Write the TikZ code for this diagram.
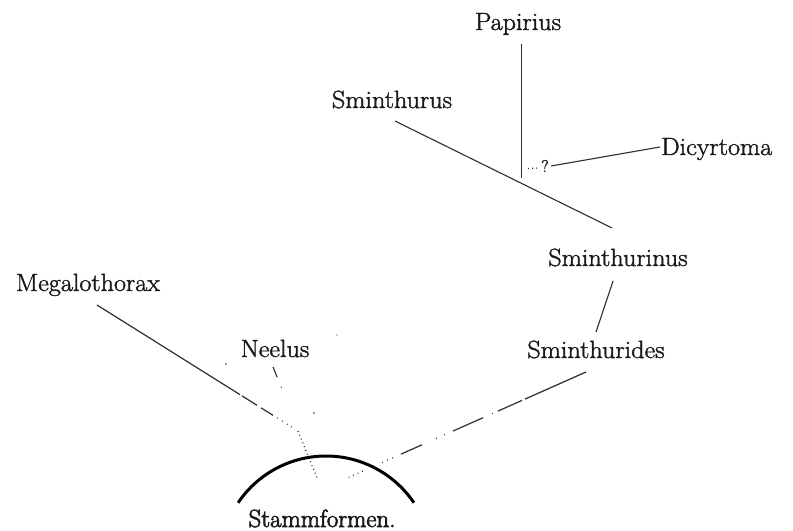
\documentclass[tikz,border=0pt]{standalone}
\usepackage{fontspec}
\newfontfamily\lblfont[FakeBold=1.5,FakeStretch=1.05]{Latin Modern Roman}
\newfontfamily\stammfont[FakeBold=2.6,FakeStretch=1.0]{Latin Modern Roman}
\usetikzlibrary{calc}
\definecolor{ink}{HTML}{1A1A1A}
\definecolor{lineink}{HTML}{2E2E2E}
\begin{document}
\begin{tikzpicture}[x=1bp,y=-1bp,
  lbl/.style={anchor=base,inner sep=0pt,text=ink,font=\lblfont\fontsize{25}{30}\selectfont},
  branch/.style={draw=lineink,line width=1.1bp},
  dotline/.style={draw=lineink,line width=1.2bp,dash pattern=on 0.9bp off 3.2bp},
  stamm/.style={draw=black,line width=3bp}]
\useasboundingbox[fill=white] (0,0) rectangle (793,531);

% labels
\node[lbl] (pap) at (518,30) {Papirius};
\node[lbl] (smu) at (392,108) {Sminthurus};
\node[lbl,anchor=base west] (dic) at (661,155) {Dicyrtoma};
\node[lbl] (smi) at (618,266) {Sminthurinus};
\node[lbl] (smd) at (596,358) {Sminthurides};
\node[lbl] (meg) at (88,291) {Megalothorax};
\node[lbl] (nee) at (275,357) {Neelus};
\node[lbl,font=\stammfont\fontsize{25}{30}\selectfont] (sta) at (322,527) {Stammformen.};
\node[inner sep=0pt,text=ink,font=\lblfont\fontsize{17}{18}\selectfont] (q) at (545,166) {?};

% junction / end coordinates
\coordinate (papT) at (521.5,44);
\coordinate (papB) at (521.5,178);
\coordinate (smuA) at (395,121);
\coordinate (smuB) at (612,228);
\coordinate (qA) at (528,168.5);
\coordinate (qB) at (539,168);
\coordinate (dicA) at (551,166);
\coordinate (dicB) at (660,147);
\coordinate (smiB) at (613,281);
\coordinate (smdT) at (596,332);
\coordinate (smdA) at (586,372);
\coordinate (smdB) at (345,479);
\coordinate (megA) at (97,305);
\coordinate (junc) at (298,431);
\coordinate (juncB) at (317,478);
\coordinate (neeA) at (273,367);
\coordinate (neeB) at (282,389);
\coordinate (arcC) at (326,562);

% Papirius
\draw[branch] (papT) -- (papB);
% Sminthurus
\draw[branch] (smuA) -- (smuB);
% Dicyrtoma with ?
\draw[dotline] (qA) -- (qB);
\draw[branch] (dicA) -- (dicB);
% Sminthurinus - Sminthurides
\draw[branch] (smiB) -- (smdT);
% Sminthurides to Stammformen (broken line)
\draw[branch,line width=1.2bp,dash pattern=on 66.7bp off 3.3bp on 26.3bp off 5.5bp on 0.8bp off 10.1bp
  on 32.8bp off 8.8bp on 0.8bp off 8bp on 0.8bp off 15.6bp on 23bp off 8.8bp
  on 0.8bp off 4.7bp on 0.8bp off 4.7bp on 0.8bp off 21.1bp
  on 0.8bp off 4.1bp on 0.8bp off 4.1bp on 0.8bp off 4.1bp on 0.8bp off 4.1bp on 0.8bp off 60bp]
  (smdA) -- (smdB);
% Megalothorax
\draw[branch,line width=1.2bp,dash pattern=on 168.7bp off 2.4bp on 17.7bp off 4.7bp on 14.2bp off 4.7bp
  on 0.8bp off 5.1bp on 0.8bp off 5.1bp on 0.8bp off 4bp on 0.8bp off 40bp]
  (megA) -- (junc);
\draw[dotline] (junc) -- (juncB);
% Neelus
\draw[branch,dash pattern=on 11bp off 10.5bp on 0.9bp off 20bp] (neeA) -- (neeB);
% stray dots
\fill[lineink] (226,364) circle (0.8);
\fill[lineink] (314,413) circle (0.8);
\fill[lineink] (337,335) circle (0.7);
% Stammformen arc
\draw[stamm] ($(arcC)+(-146:106)$) arc[start angle=-146,end angle=-34,radius=106];
\end{tikzpicture}
\end{document}
